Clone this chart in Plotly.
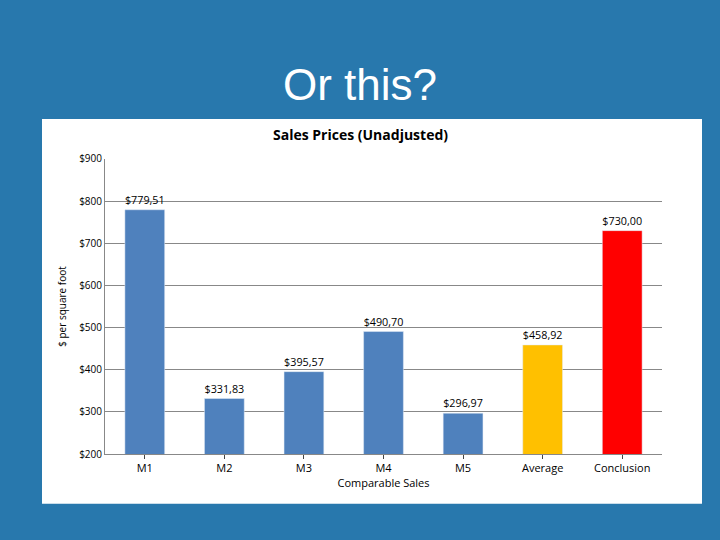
import plotly.graph_objects as go

categories = ["M1", "M2", "M3", "M4", "M5", "Average", "Conclusion"]
values = [779.51, 331.83, 395.57, 490.70, 296.97, 458.92, 730.00]
labels = ["$779,51", "$331,83", "$395,57", "$490,70", "$296,97", "$458,92", "$730,00"]
colors = ["#4f81bd"] * 5 + ["#ffc000", "#ff0000"]
tick_vals = [200, 300, 400, 500, 600, 700, 800, 900]
tick_text = ["$200", "$300", "$400", "$500", "$600", "$700", "$800", "$900"]

font = "Open Sans"
fig = go.Figure(go.Bar(
    x=categories, y=values, base=0, marker_color=colors, width=0.5,
    text=labels, textposition="outside", cliponaxis=False,
    textfont=dict(family=font, size=11, color="black"),
))

fig.update_layout(
    width=720, height=540, showlegend=False,
    margin=dict(l=0, r=0, t=0, b=0),
    paper_bgcolor="#2878ad", plot_bgcolor="white",
    shapes=[dict(type="rect", xref="paper", yref="paper", x0=42/720, x1=702/720,
                 y0=1-510/540, y1=1-115/540, fillcolor="white", line_width=0, layer="below")],
    annotations=[
        dict(text="Or this?", x=0.5, y=1-80/540, xref="paper", yref="paper", showarrow=False,
             yanchor="middle", font=dict(family="Liberation Sans", size=44, color="white")),
        dict(text="<b>Sales Prices (Unadjusted)</b>", x=0.5, y=1-131/540, xref="paper", yref="paper",
             yanchor="middle", showarrow=False, font=dict(family=font, size=14, color="black")),
    ],
    xaxis=dict(domain=[105/720, 662/720], title=dict(text="Comparable Sales", standoff=2,
               font=dict(family=font, size=11, color="black")),
               tickfont=dict(family=font, size=11, color="black"), showline=True, linecolor="#888",
               ticks="outside", ticklen=4),
    yaxis=dict(domain=[1-459/540, 1-156/540], range=[200, 900], tickvals=tick_vals, ticktext=tick_text,
               tickfont=dict(family=font, size=10, color="black"), gridcolor="#888", showline=True,
               linecolor="#888", ticks="", ticklen=4,
               title=dict(text="$ per square foot", standoff=10, font=dict(family=font, size=10, color="black"))),
)
fig.write_html("out.html", config={"displayModeBar": False},
               post_script="document.body.style.margin='0';document.body.style.overflow='hidden';")
